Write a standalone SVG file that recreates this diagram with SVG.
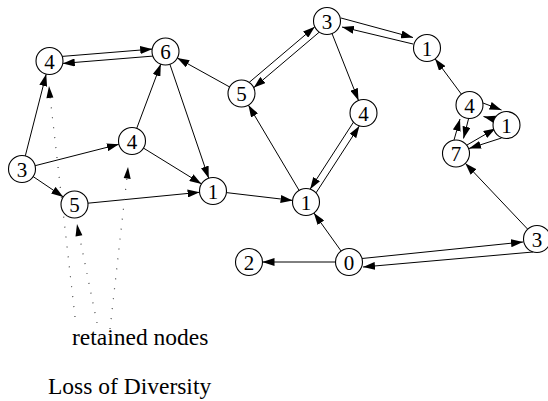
<svg xmlns="http://www.w3.org/2000/svg" width="548" height="401" viewBox="0 0 548 401">
<defs>
<marker id="ah" markerUnits="userSpaceOnUse" markerWidth="12" markerHeight="8" refX="12" refY="4" orient="auto">
<path d="M0,0 L12,4 L0,8 z" fill="#000"/>
</marker>
<style>
.n circle{fill:#fff;stroke:#000;stroke-width:1.1}
.n text{font-size:21px;text-anchor:middle;fill:#000}
.e line{stroke:#000;stroke-width:1;marker-end:url(#ah)}
.d line{stroke:#444;stroke-width:1.2;stroke-dasharray:1 9;fill:none}
.d path{fill:#000}
.lbl{font-size:23.5px;fill:#000}
</style>
</defs>
<rect width="548" height="401" fill="#fff"/>
<g id="connectors" class="e">
<line x1="62.2" y1="56.4" x2="152.2" y2="49.1"/>
<line x1="152.8" y1="56.1" x2="62.8" y2="63.4"/>
<line x1="25.3" y1="155.9" x2="46.2" y2="74.1"/>
<line x1="35.1" y1="165.7" x2="118.9" y2="144.3"/>
<line x1="33.2" y1="176.6" x2="63.3" y2="196.9"/>
<line x1="136.7" y1="128.4" x2="160.8" y2="64.1"/>
<line x1="143.5" y1="148.1" x2="201.5" y2="183.9"/>
<line x1="169.9" y1="64.3" x2="208.7" y2="178.2"/>
<line x1="87.9" y1="203.2" x2="199.6" y2="192.3"/>
<line x1="229.7" y1="87" x2="177.3" y2="58"/>
<line x1="226.4" y1="192.6" x2="292.6" y2="200.4"/>
<line x1="299.1" y1="190.4" x2="248.4" y2="105.1"/>
<line x1="249.2" y1="82.4" x2="314.8" y2="26.8"/>
<line x1="319.3" y1="32.1" x2="253.7" y2="87.7"/>
<line x1="332" y1="33.5" x2="358.5" y2="100.5"/>
<line x1="316" y1="192.9" x2="359.4" y2="125.9"/>
<line x1="353.5" y1="122.1" x2="310.1" y2="189.2"/>
<line x1="341" y1="18" x2="413" y2="37.5"/>
<line x1="413" y1="44" x2="342" y2="27"/>
<line x1="461.4" y1="94.2" x2="435.1" y2="58.8"/>
<line x1="483" y1="103" x2="501.5" y2="110"/>
<line x1="497" y1="120" x2="483.5" y2="116.5"/>
<line x1="454" y1="140" x2="460" y2="119"/>
<line x1="469" y1="117" x2="463.5" y2="138.5"/>
<line x1="467" y1="145" x2="495.5" y2="128.5"/>
<line x1="501.5" y1="138" x2="469" y2="148.5"/>
<line x1="527.7" y1="229.2" x2="465.3" y2="163.3"/>
<line x1="341.1" y1="251" x2="313.9" y2="213"/>
<line x1="335.5" y1="262" x2="262.5" y2="262"/>
<line x1="362" y1="258.5" x2="523" y2="242"/>
<line x1="533" y1="252" x2="363" y2="267"/>
</g>
<g id="retained-pointers" class="d">
<line x1="75" y1="317" x2="50" y2="96"/>
<path d="M49,86 L53.4,97.5 L46.4,98.3 z"/>
<line x1="97" y1="323" x2="79" y2="234"/>
<path d="M77,224 L82.4,235.2 L75.5,236.6 z"/>
<line x1="110" y1="329" x2="127" y2="177"/>
<path d="M128,167 L130.7,178.9 L123.7,178.1 z"/>
</g>
<g font-family="Liberation Serif, Times New Roman, DejaVu Serif, serif">
<g id="n-a" class="n"><circle cx="49.5" cy="61" r="13.5"/><text x="49.5" y="68.5">4</text></g>
<g id="n-b" class="n"><circle cx="165.5" cy="51.5" r="13.5"/><text x="165.5" y="59">6</text></g>
<g id="n-c" class="n"><circle cx="22" cy="169" r="13.5"/><text x="22" y="176.5">3</text></g>
<g id="n-d" class="n"><circle cx="132" cy="141" r="13.5"/><text x="132" y="148.5">4</text></g>
<g id="n-e" class="n"><circle cx="74.5" cy="204.5" r="13.5"/><text x="74.5" y="212">5</text></g>
<g id="n-f" class="n"><circle cx="213" cy="191" r="13.5"/><text x="213" y="198.5">1</text></g>
<g id="n-g" class="n"><circle cx="241.5" cy="93.5" r="13.5"/><text x="241.5" y="101">5</text></g>
<g id="n-h" class="n"><circle cx="327" cy="21" r="13.5"/><text x="327" y="28.5">3</text></g>
<g id="n-i" class="n"><circle cx="363.5" cy="113" r="13.5"/><text x="363.5" y="120.5">4</text></g>
<g id="n-j" class="n"><circle cx="306" cy="202" r="13.5"/><text x="306" y="209.5">1</text></g>
<g id="n-k" class="n"><circle cx="427" cy="48" r="13.5"/><text x="427" y="55.5">1</text></g>
<g id="n-l" class="n"><circle cx="469.5" cy="105" r="13.5"/><text x="469.5" y="112.5">4</text></g>
<g id="n-m" class="n"><circle cx="506.5" cy="125" r="13.5"/><text x="506.5" y="132.5">1</text></g>
<g id="n-n" class="n"><circle cx="456" cy="153.5" r="13.5"/><text x="456" y="161">7</text></g>
<g id="n-o" class="n"><circle cx="537" cy="239" r="13.5"/><text x="537" y="246.5">3</text></g>
<g id="n-p" class="n"><circle cx="349" cy="262" r="13.5"/><text x="349" y="269.5">0</text></g>
<g id="n-q" class="n"><circle cx="249" cy="262" r="13.5"/><text x="249" y="269.5">2</text></g>
<text class="lbl" x="72" y="345">retained nodes</text>
<text class="lbl" x="48" y="394">Loss of Diversity</text>
</g>
</svg>
